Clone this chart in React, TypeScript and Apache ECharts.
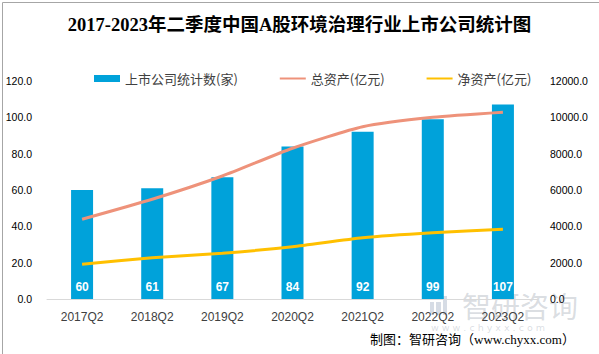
import React, { useEffect, useRef } from "react";
import * as echarts from "echarts";

const categories = ["2017Q2", "2018Q2", "2019Q2", "2020Q2", "2021Q2", "2022Q2", "2023Q2"];
const companyCount = [60, 61, 67, 84, 92, 99, 107];
const totalAssets = [4390, 5490, 6770, 8300, 9480, 10000, 10280];
const netAssets = [1910, 2270, 2515, 2880, 3375, 3650, 3835];
const leftTicks = { min: 0, max: 120, interval: 20 };
const rightTicks = { min: 0, max: 12000, interval: 2000 };

const CJK = "'Noto Sans CJK SC', sans-serif";
const NUM = "'Liberation Sans', 'Noto Sans CJK SC', sans-serif";

export default function App() {
  const ref = useRef<HTMLDivElement>(null);
  useEffect(() => {
    if (!ref.current) return;
    const chart = echarts.init(ref.current, undefined, { renderer: "svg" });
    chart.setOption({
      animation: false,
      backgroundColor: "#ffffff",
      title: {
        text: "2017-2023年二季度中国A股环境治理行业上市公司统计图",
        left: "center",
        top: 11,
        textStyle: {
          fontFamily: "'Liberation Serif', 'Noto Sans CJK SC', serif",
          fontWeight: "bold",
          fontSize: 18.5,
          color: "#000000",
        },
      },
      legend: {
        top: 67,
        left: 89,
        itemGap: 41,
        itemWidth: 26,
        itemHeight: 7,
        textStyle: { fontFamily: CJK, fontSize: 13, color: "#404040" },
        data: [
          { name: "上市公司统计数(家)", icon: "rect" },
          { name: "总资产(亿元)", itemStyle: { opacity: 0 } },
          { name: "净资产(亿元)", itemStyle: { opacity: 0 } },
        ],
      },
      grid: { left: 47, right: 61, top: 81, bottom: 55, containLabel: false },
      xAxis: {
        type: "category",
        data: categories,
        axisLine: { lineStyle: { color: "#d9d9d9", width: 1 } },
        axisTick: { show: false },
        axisLabel: { fontFamily: NUM, fontSize: 12, color: "#404040", margin: 12 },
      },
      yAxis: [
        {
          type: "value",
          ...leftTicks,
          splitLine: { show: false },
          axisLine: { show: false },
          axisTick: { show: false },
          axisLabel: {
            fontFamily: NUM,
            fontSize: 10.5,
            color: "#000000",
            margin: 15,
            formatter: (v: number) => v.toFixed(1),
          },
        },
        {
          type: "value",
          ...rightTicks,
          splitLine: { show: false },
          axisLine: { show: false },
          axisTick: { show: false },
          axisLabel: {
            fontFamily: NUM,
            fontSize: 10.5,
            color: "#000000",
            margin: 12,
            formatter: (v: number) => v.toFixed(1),
          },
        },
      ],
      series: [
        {
          name: "上市公司统计数(家)",
          type: "bar",
          data: companyCount,
          barWidth: 22,
          itemStyle: { color: "#00A2DA" },
          label: {
            show: true,
            position: "insideBottom",
            distance: 6,
            color: "#ffffff",
            fontFamily: NUM,
            fontSize: 12,
            fontWeight: "bold",
          },
        },
        {
          name: "总资产(亿元)",
          type: "line",
          yAxisIndex: 1,
          data: totalAssets,
          smooth: 0.2,
          symbol: "none",
          lineStyle: { color: "#EE927A", width: 3 },
          itemStyle: { color: "#EE927A" },
        },
        {
          name: "净资产(亿元)",
          type: "line",
          yAxisIndex: 1,
          data: netAssets,
          smooth: 0.2,
          symbol: "none",
          lineStyle: { color: "#FFC000", width: 3 },
          itemStyle: { color: "#FFC000" },
        },
      ],
      graphic: [
        {
          type: "rect",
          left: 0,
          top: 0,
          shape: { x: 0.5, y: 0.5, width: 598, height: 353 },
          style: { fill: "none", stroke: "#a6a6a6", lineWidth: 1 },
          silent: true,
        },
        {
          type: "group",
          silent: true,
          children: [
            { type: "rect", shape: { x: 430, y: 296, width: 10, height: 4 }, style: { fill: "rgba(120,140,170,0.3)" } },
            { type: "rect", shape: { x: 430, y: 302, width: 4, height: 13 }, style: { fill: "rgba(120,140,170,0.3)" } },
            { type: "rect", shape: { x: 436, y: 302, width: 5, height: 13 }, style: { fill: "rgba(120,140,170,0.3)" } },
            { type: "rect", shape: { x: 443, y: 296, width: 4, height: 19 }, style: { fill: "rgba(120,140,170,0.3)" } },
          ],
        },
        {
          type: "text",
          left: 462,
          top: 290,
          style: {
            text: "智研咨询",
            font: "29px 'Noto Sans CJK SC', sans-serif",
            fill: "rgba(140,150,165,0.32)",
          },
          silent: true,
        },
        {
          type: "text",
          left: 431,
          top: 322,
          style: {
            text: "w w w . c h y x x . c o m",
            font: "9.5px 'DejaVu Sans', sans-serif",
            fill: "rgba(140,150,165,0.32)",
          },
          silent: true,
        },
        {
          type: "text",
          left: 370,
          top: 333,
          style: {
            text: "制图：智研咨询（www.chyxx.com）",
            font: "13px 'Liberation Serif', 'Noto Sans CJK SC', serif",
            fill: "#000000",
          },
          silent: true,
        },
      ],
    });
    return () => chart.dispose();
  }, []);
  return <div ref={ref} style={{ width: 599, height: 354, position: "absolute", left: 0, top: 0 }} />;
}
